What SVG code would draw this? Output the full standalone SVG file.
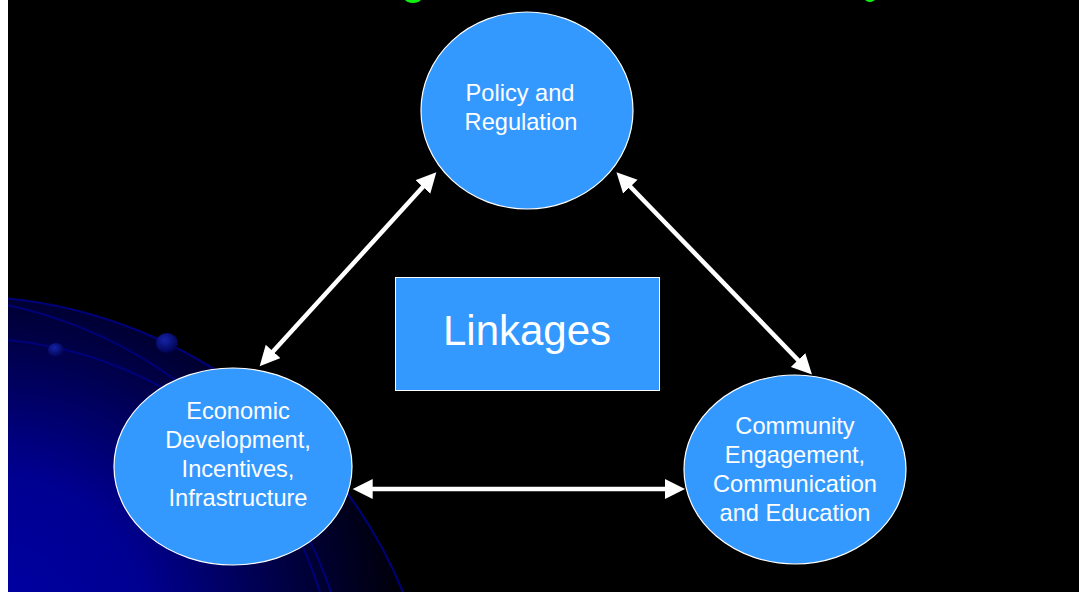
<svg xmlns="http://www.w3.org/2000/svg" width="1079" height="592" viewBox="0 0 1079 592">
  <style>
    .node { fill: #3399ff; stroke: #ffffff; stroke-width: 1.2; }
    .lbl { fill: #ffffff; font-family: "Liberation Sans", Arial, sans-serif; font-size: 23.6px; text-anchor: middle; }
    .big { font-size: 42px; }
    .conn { stroke: #ffffff; stroke-width: 4.5; fill: none; marker-start: url(#ah); marker-end: url(#ah); }
    .orbit { fill: none; stroke: #00007a; stroke-width: 2; }
  </style>
  <defs>
    <marker id="ah" markerUnits="userSpaceOnUse" markerWidth="22" markerHeight="22" viewBox="0 0 22 22" refX="10" refY="10" orient="auto-start-reverse">
      <path d="M0,0 L20,10 L0,20 Z" fill="#ffffff"/>
    </marker>
    <radialGradient id="glow" gradientUnits="userSpaceOnUse" cx="0" cy="620" r="420">
      <stop offset="0" stop-color="#0000a4"/>
      <stop offset="0.35" stop-color="#000090"/>
      <stop offset="0.7" stop-color="#000040"/>
      <stop offset="1" stop-color="#000000"/>
    </radialGradient>
    <radialGradient id="dot" cx="0.4" cy="0.35" r="0.7">
      <stop offset="0" stop-color="#1424a8"/>
      <stop offset="1" stop-color="#00004a"/>
    </radialGradient>
  </defs>

  <!-- background -->
  <rect x="0" y="0" width="1079" height="592" fill="#ffffff"/>
  <rect x="8" y="0" width="1071" height="592" fill="#000000"/>
  <clipPath id="bg"><rect x="8" y="0" width="1071" height="592"/></clipPath>
  <g id="decoration" clip-path="url(#bg)">
    <circle cx="-41" cy="777" r="482" fill="url(#glow)"/>
    <circle class="orbit" cx="-41" cy="777" r="481"/>
    <circle class="orbit" cx="-82" cy="732" r="436"/>
    <path class="orbit" d="M8,340 Q 110,350 200,410 Q 280,470 320,592"/>
    <ellipse cx="167" cy="343" rx="11" ry="10" fill="url(#dot)"/>
    <ellipse cx="56" cy="350" rx="8" ry="7" fill="url(#dot)"/>
  </g>

  <!-- cut-off title fragments -->
  <g id="title-fragments" fill="#11ee11">
    <ellipse cx="413" cy="-1" rx="8" ry="4"/>
    <ellipse cx="870" cy="-1" rx="5" ry="3"/>
  </g>

  <!-- connectors -->
  <g id="connectors">
    <line class="conn" x1="429.6" y1="179.6" x2="266.4" y2="358.8"/>
    <line class="conn" x1="623.4" y1="179.5" x2="805.0" y2="367.2"/>
    <line class="conn" x1="362.7" y1="489" x2="675" y2="489"/>
  </g>

  <g id="policy">
    <ellipse class="node" cx="527" cy="110.5" rx="106" ry="98.5"/>
    <text class="lbl" x="520" y="101">Policy and</text>
    <text class="lbl" x="521" y="130">Regulation</text>
  </g>

  <g id="economic">
    <ellipse class="node" cx="233" cy="466.5" rx="119" ry="98.5"/>
    <text class="lbl" x="238" y="418.5">Economic</text>
    <text class="lbl" x="238" y="447.5">Development,</text>
    <text class="lbl" x="238" y="476.5">Incentives,</text>
    <text class="lbl" x="238" y="505.5">Infrastructure</text>
  </g>

  <g id="community">
    <ellipse class="node" cx="795" cy="469.5" rx="111" ry="94.5"/>
    <text class="lbl" x="795" y="433.5">Community</text>
    <text class="lbl" x="795" y="462.5">Engagement,</text>
    <text class="lbl" x="795" y="491.5">Communication</text>
    <text class="lbl" x="795" y="520.5">and Education</text>
  </g>

  <g id="linkages">
    <rect x="395.5" y="277.5" width="264" height="113" fill="#3399ff" stroke="#ffffff" stroke-width="1"/>
    <text class="lbl big" x="527" y="345">Linkages</text>
  </g>
</svg>
